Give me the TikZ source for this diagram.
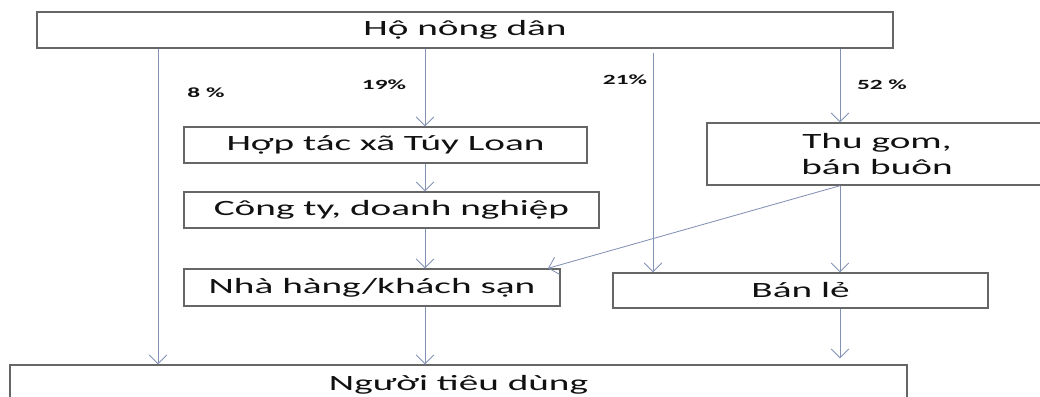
\documentclass[tikz,border=0pt]{standalone}
\usepackage{fontspec}
\setmainfont[FakeStretch=1.8]{Carlito}
\usepackage{xcolor}
\definecolor{frame}{HTML}{666666}
\definecolor{flow}{HTML}{8391B4}
\definecolor{ink}{HTML}{111111}
\usepackage{tikz}
\usetikzlibrary{arrows.meta,positioning,calc}

\begin{document}
\begin{tikzpicture}[
  x=0.025cm, y=-0.025cm,
  box/.style={draw=frame, line width=1pt, inner sep=0pt, minimum height=0.9cm,
              text=ink, font=\fontsize{15.5}{19}\selectfont, align=center},
  flowline/.style={-{Straight Barb[length=2.2mm, width=4.4mm]}, line width=0.6pt, color=flow},
  share/.style={font=\bfseries\fontsize{10}{12}\selectfont, text=ink}
]
\useasboundingbox (0,0) rectangle (1040,396);
\clip (0,0) rectangle (1040,396);

% Boxes
\node[box, minimum width=21.4cm] (farm) at (465,30) {Hộ nông dân};
\node[box, minimum width=10.075cm] (htx) at (385.5,145) {Hợp tác xã Túy Loan};
\node[box, minimum width=10.375cm] (cty) at (391.5,210) {Công ty, doanh nghiệp};
\node[box, minimum width=9.4cm, minimum height=0.925cm] (nha) at (372,287.5) {Nhà hàng/khách sạn};
\node[box, minimum width=8.5cm, minimum height=1.55cm] (gom) at (877,154) {Thu gom,\\bán buôn};
\node[box, minimum width=9.375cm, minimum height=0.875cm] (le) at (800.5,290.5) {Bán lẻ};
\node[box, minimum width=22.425cm, minimum height=1cm] (dung) at (458.5,385) {Người tiêu dùng};

% Channel columns
\coordinate (c1) at (158,0);
\coordinate (c2) at (425,0);
\coordinate (c3) at (653,0);
\coordinate (c4) at (840,0);

% Direct sale
\draw[flowline] (c1 |- farm.south) -- (c1 |- dung.north);
\node[share] (p8) at (206,93) {8 \%};

% Cooperative chain
\draw[flowline] (c2 |- farm.south) -- (c2 |- htx.north);
\node[share] (p19) at (384,85) {19\%};
\draw[flowline] (c2 |- htx.south) -- (c2 |- cty.north);
\draw[flowline] (c2 |- cty.south) -- (c2 |- nha.north);
\draw[flowline] (c2 |- nha.south) -- (c2 |- dung.north);

% Retail
\draw[flowline, shorten <=0.1cm] (c3 |- farm.south) -- (c3 |- le.north);
\node[share] (p21) at (625,80) {21\%};

% Collectors
\draw[flowline] (c4 |- farm.south) -- (c4 |- gom.north);
\node[share] (p52) at (882,85) {52 \%};
\draw[flowline] (c4 |- gom.south) -- (c4 |- le.north);
\draw[flowline] (c4 |- gom.south) -- ([xshift=-0.32cm]nha.north east);
\draw[flowline, shorten >=0.15cm] (c4 |- le.south) -- (c4 |- dung.north);

\end{tikzpicture}
\end{document}
